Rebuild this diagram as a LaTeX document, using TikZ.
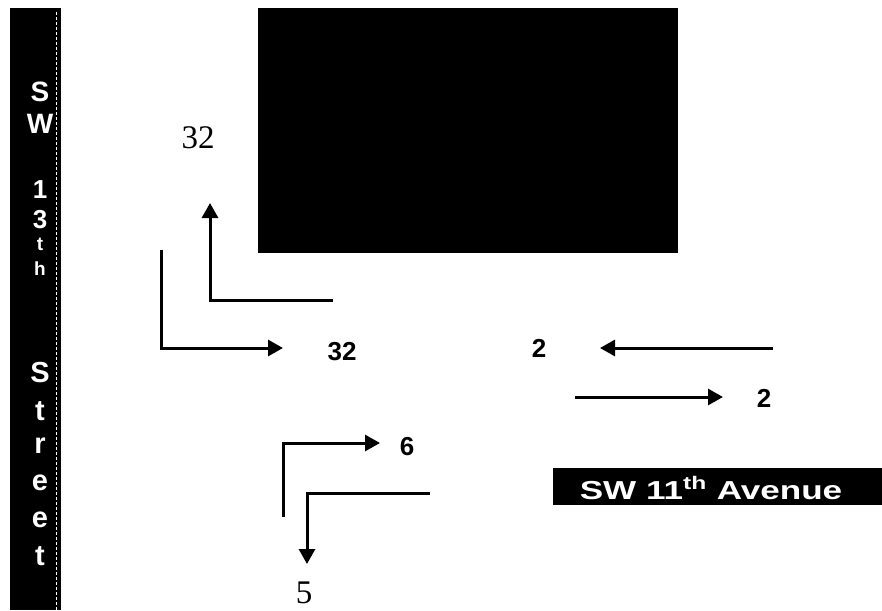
\documentclass[tikz,border=0pt]{standalone}
\usepackage{fontspec}
\usepackage{graphicx}
\setmainfont{Liberation Serif}
\newfontfamily\arialfont{Liberation Sans}
\usetikzlibrary{arrows.meta}
\begin{document}
\begin{tikzpicture}[x=1pt,y=-1pt,
  arr/.style={line width=3pt,-{Triangle[length=15pt,width=16pt]}},
  blackbox/.style={fill=black,draw=none,inner sep=0pt,anchor=north west},
  barletter/.style={anchor=base,text=white,inner sep=0pt},
  boldlabel/.style={anchor=base,inner sep=0pt,font=\arialfont\bfseries\fontsize{26}{26}\selectfont},
  seriflabel/.style={anchor=base,inner sep=0pt,font=\fontsize{33}{33}\selectfont}]
\useasboundingbox (0,0) rectangle (882,610);
\fill[white] (0,0) rectangle (882,610);
% street bar
\node[blackbox,minimum width=51pt,minimum height=602pt] (streetbar) at (10,8) {};
\draw[white,line width=1pt,dash pattern=on 3pt off 2pt] (streetbar.north east) ++(-5,4) coordinate (edgetop) -- (edgetop |- streetbar.south) coordinate (edgebot);
\foreach \ch/\yy/\sz [count=\i] in {S/101/28,W/133/28,1/198/26,3/228/26,t/250/19,h/275/19,S/382/29,t/420/29,r/453/29,e/490/29,e/527/29,t/565/29}
  \node[barletter,font=\arialfont\bfseries\fontsize{\sz}{\sz}\selectfont] (L\i) at (40,\yy) {\ch};
% building
\node[blackbox,minimum width=420pt,minimum height=245pt] (building) at (258,8) {};
% avenue label
\node[blackbox,minimum width=329pt,minimum height=37pt] (avebox) at (553,468) {};
\node[anchor=base,inner sep=0pt,text=white,font=\arialfont\bfseries\fontsize{26}{26}\selectfont] (avetext) at (711,499) {\scalebox{1.35}[1]{SW 11\textsuperscript{th} Avenue}};
% coordinates
\coordinate (a1s) at (333,300); \coordinate (a1t) at (210,203);
\coordinate (a2s) at (161,250); \coordinate (a2t) at (283,348);
\coordinate (a3s) at (283,517); \coordinate (a3t) at (380,443);
\coordinate (a4s) at (430,493); \coordinate (a4t) at (307,564);
\coordinate (a5s) at (773,348); \coordinate (a5t) at (600,348);
\coordinate (a6s) at (575,397); \coordinate (a6t) at (723,397);
\draw[arr] (a1s) -| (a1t);
\draw[arr] (a2s) |- (a2t);
\draw[arr] (a3s) |- (a3t);
\draw[arr] (a4s) -| (a4t);
\draw[arr] (a5s) -- (a5t);
\draw[arr] (a6s) -- (a6t);
% labels
\node[seriflabel] (n32a) at (198,148) {32};
\node[boldlabel] (n32b) at (342,360) {32};
\node[boldlabel] (n2a) at (539,357) {2};
\node[boldlabel] (n2b) at (764,407) {2};
\node[boldlabel] (n6) at (407,455) {6};
\node[seriflabel] (n5) at (304,603) {5};
\end{tikzpicture}
\end{document}
